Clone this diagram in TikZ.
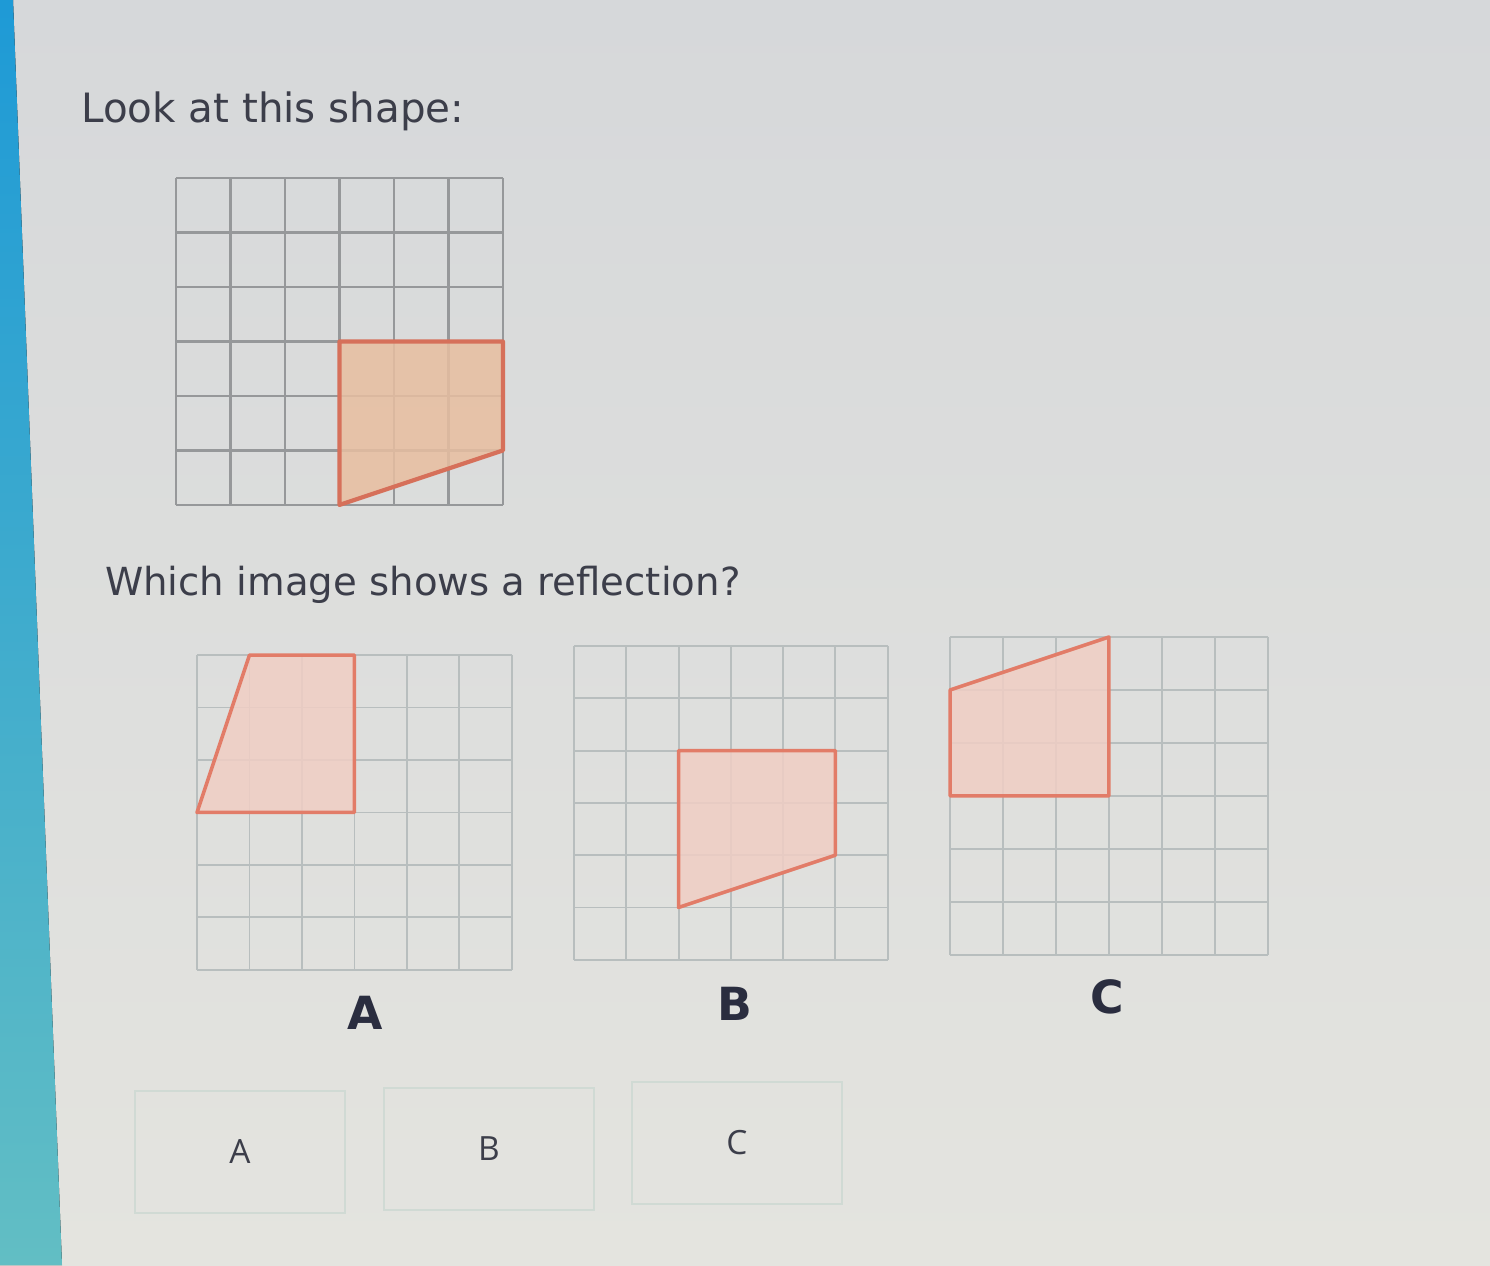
\documentclass[tikz,border=0pt]{standalone}
\usepackage{fontspec}
\setmainfont{DejaVu Sans}
\newfontfamily\buttonfont{Open Sans}
\usetikzlibrary{positioning}

\definecolor{screenbg}{RGB}{228,228,223}
\definecolor{screentop}{RGB}{214,216,218}
\definecolor{bezelblue}{RGB}{30,154,214}
\definecolor{bezelteal}{RGB}{98,190,196}
\definecolor{textgray}{RGB}{60,62,74}
\definecolor{labelnavy}{RGB}{42,45,63}
\definecolor{gridgray}{RGB}{150,152,154}
\definecolor{gridlight}{RGB}{184,190,190}
\definecolor{shapeline}{RGB}{214,112,90}
\definecolor{shapefill}{RGB}{232,190,160}
\definecolor{optline}{RGB}{226,124,104}
\definecolor{optfill}{RGB}{240,206,196}
\definecolor{boxline}{RGB}{208,218,212}

\begin{document}
\begin{tikzpicture}[x=0.02cm, y=-0.02cm,
    prompt/.style={anchor=base west, text=textgray},
    optlabel/.style={text=labelnavy, font=\fontsize{26}{30}\selectfont\bfseries},
    answerbox/.style={draw=boxline, line width=1.2pt, minimum width=4.2cm, minimum height=2.45cm,
        font=\buttonfont\fontsize{19}{22}\selectfont, text=textgray},
    mainline/.style={draw=gridgray, line width=1.3pt},
    optgrid/.style={draw=gridlight, line width=1.1pt},
    mainshape/.style={draw=shapeline, fill=shapefill, line width=2.4pt, line join=round, fill opacity=0.85},
    optshape/.style={draw=optline, fill=optfill, line width=2pt, line join=round, fill opacity=0.85}]

    % screen and bezel
    \fill[top color=screentop, bottom color=screenbg] (0,0) rectangle (1490,1265);
    \fill[top color=bezelblue, bottom color=bezelteal] (0,0) -- (13,0) -- (40,700) -- (62,1265) -- (0,1265) -- cycle;

    % question texts
    \node[prompt, font=\fontsize{23}{27}\selectfont] (look) at (75,122) {Look at this shape:};
    \node[prompt, font=\fontsize{22}{26}\selectfont] (which) at (99,595) {Which image shows a reflection?};

    % the shape
    \begin{scope}[shift={(176,178)}, x=1.09cm, y=-1.09cm]
        \foreach \i in {0,...,6} {
            \draw[mainline] (\i,0) -- (\i,6);
            \draw[mainline] (0,\i) -- (6,\i);
        }
        \draw[mainshape] (3,3) -- (6,3) -- (6,5) -- (3,6) -- cycle;
    \end{scope}

    % image A
    \begin{scope}[shift={(197,655)}, x=1.05cm, y=-1.05cm]
        \foreach \i in {0,...,6} {
            \draw[optgrid] (\i,0) -- (\i,6);
            \draw[optgrid] (0,\i) -- (6,\i);
        }
        \draw[optshape] (1,0) -- (3,0) -- (3,3) -- (0,3) -- cycle;
    \end{scope}

    % image B
    \begin{scope}[shift={(574,646)}, x=1.046cm, y=-1.046cm]
        \foreach \i in {0,...,6} {
            \draw[optgrid] (\i,0) -- (\i,6);
            \draw[optgrid] (0,\i) -- (6,\i);
        }
        \draw[optshape] (2,2) -- (5,2) -- (5,4) -- (2,5) -- cycle;
    \end{scope}

    % image C
    \begin{scope}[shift={(950,637)}, x=1.06cm, y=-1.06cm]
        \foreach \i in {0,...,6} {
            \draw[optgrid] (\i,0) -- (\i,6);
            \draw[optgrid] (0,\i) -- (6,\i);
        }
        \draw[optshape] (0,1) -- (3,0) -- (3,3) -- (0,3) -- cycle;
    \end{scope}

    % labels under the images
    \node[optlabel] (labA) at (365,1013) {A};
    \node[optlabel] (labB) at (735,1004) {B};
    \node[optlabel] (labC) at (1107,997) {C};

    % answer buttons
    \node[answerbox] (btnA) at (240,1152) {A};
    \node[answerbox] (btnB) at (489,1149) {B};
    \node[answerbox] (btnC) at (737,1143) {C};
\end{tikzpicture}
\end{document}
